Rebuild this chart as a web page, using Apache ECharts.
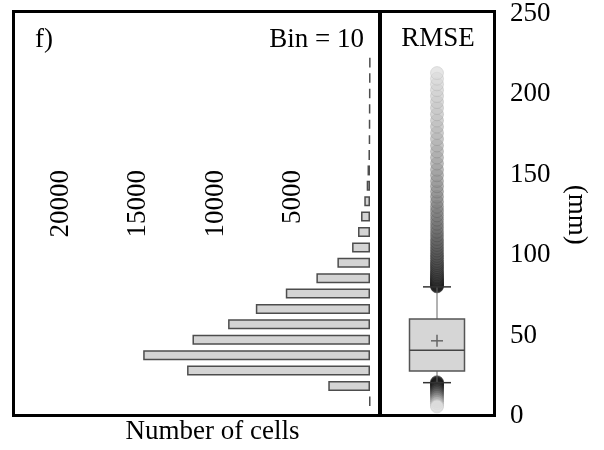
<!DOCTYPE html>
<html>
<head>
<meta charset="utf-8">
<script src="https://cdn.jsdelivr.net/npm/echarts@6/dist/echarts.min.js"></script>
<style>html,body{margin:0;padding:0;background:#fff}#c{width:604px;height:450px}</style>
</head>
<body>
<div id="c"></div>
<script>
// Histogram: bins of 10 mm, number of cells per bin
var binLabels = ['0-10','10-20','20-30','30-40','40-50','50-60','60-70','70-80','80-90','90-100',
  '100-110','110-120','120-130','130-140','140-150','150-160','160-170','170-180','180-190',
  '190-200','200-210','210-220','220-230'];
var binCounts = [30, 2700, 11840, 14680, 11490, 9185, 7390, 5450, 3470, 2110,
  1160, 775, 580, 370, 215, 160, 100, 70, 60, 50, 40, 30, 20];
var countTicks = [0, 5000, 10000, 15000, 20000];

// Boxplot of RMSE (mm): [whiskerLow, Q1, median, Q3, whiskerHigh, mean]
var boxCategory = ['RMSE'];
var boxStats = [20.7, 27.9, 40.9, 60.2, 80.2, 46.7];
var outliersHigh = [80.5, 81, 81.6, 82.3, 83, 83.8, 84.5, 85.3, 86.2, 87, 88, 89, 90.1, 91.3, 92.5,
  93.8, 95, 96.4, 98, 99.5, 101, 102.8, 104.5, 106.3, 108, 110, 112.2, 114.5, 117, 119.4, 122,
  124.6, 127.3, 130, 133, 136.2, 139.4, 142.7, 146, 149.5, 153, 156.8, 160.5, 164.3, 168, 172,
  175.8, 179.7, 183.5, 187.4, 191.3, 195, 198.7, 202.4, 206, 209.5, 213];
var outliersLow = [21, 20.3, 19.5, 18.8, 18, 17.1, 16.2, 15.2, 14.1, 13, 11.8, 10.5, 9.2, 7.9, 6.5, 5.9];
var mmTicks = [0, 50, 100, 150, 200, 250];

var FONT = 'Liberation Serif';
var chart = echarts.init(document.getElementById('c'), null, {renderer: 'canvas'});

function grayFor(v) {
  var g;
  if (v >= 50) {
    var t = Math.min(1, Math.max(0, (v - 80) / 135));
    g = Math.round(35 + 185 * Math.pow(t, 0.7));
  } else {
    var s = Math.min(1, Math.max(0, (21 - v) / 15));
    g = Math.round(30 + 195 * Math.pow(s, 1.6));
  }
  return g;
}
function outStyle(v) {
  var g = grayFor(v);
  var b = Math.max(0, g - 35);
  return {
    color: 'rgba(' + g + ',' + g + ',' + g + ',0.85)',
    borderColor: 'rgba(' + b + ',' + b + ',' + b + ',0.6)',
    borderWidth: 0.8
  };
}
var outData = outliersHigh.concat(outliersLow).map(function (v) {
  return {value: [boxCategory[0], v], itemStyle: outStyle(v)};
});

chart.setOption({
  animation: false,
  backgroundColor: '#fff',
  grid: [
    {left: 61, right: 234, top: 55, height: 354},
    {left: 380, right: 110, top: 13, height: 403}
  ],
  xAxis: [
    {
      gridIndex: 0, type: 'value', inverse: true, position: 'top',
      min: countTicks[0], max: countTicks[countTicks.length - 1], interval: 5000,
      axisLine: {show: false}, axisTick: {show: false}, splitLine: {show: false},
      axisLabel: {inside: true, rotate: -90, margin: 115, showMinLabel: false,
        formatter: function (v) { return String(v); },
        fontFamily: FONT, fontSize: 27, color: '#000'}
    },
    {
      gridIndex: 1, type: 'category', data: boxCategory,
      axisLine: {show: false}, axisTick: {show: false}, axisLabel: {show: false}
    }
  ],
  yAxis: [
    {
      gridIndex: 0, type: 'category', data: binLabels,
      axisLine: {show: false}, axisTick: {show: false}, axisLabel: {show: false}
    },
    {
      gridIndex: 1, type: 'value', position: 'right',
      min: mmTicks[0], max: mmTicks[mmTicks.length - 1], interval: 50,
      axisLine: {show: false}, axisTick: {show: false}, splitLine: {show: false},
      axisLabel: {margin: 16, fontFamily: FONT, fontSize: 27, color: '#000'},
      name: '(mm)', nameLocation: 'middle', nameRotate: -90, nameGap: 69,
      nameTextStyle: {fontFamily: FONT, fontSize: 27, color: '#000'}
    }
  ],
  series: [
    {
      type: 'bar', xAxisIndex: 0, yAxisIndex: 0, data: binCounts, barWidth: 10,
      itemStyle: {color: '#d4d4d4', borderColor: '#4d4d4d', borderWidth: 1.5}
    },
    {
      type: 'scatter', xAxisIndex: 1, yAxisIndex: 1, data: outData,
      symbol: 'circle', symbolSize: 13, z: 2
    },
    {
      type: 'custom', xAxisIndex: 1, yAxisIndex: 1, z: 5,
      data: [[boxCategory[0]].concat(boxStats)],
      renderItem: function (params, api) {
        var c = api.coord([api.value(0), 0])[0];
        var yLo = api.coord([api.value(0), api.value(1)])[1];
        var yQ1 = api.coord([api.value(0), api.value(2)])[1];
        var yMed = api.coord([api.value(0), api.value(3)])[1];
        var yQ3 = api.coord([api.value(0), api.value(4)])[1];
        var yHi = api.coord([api.value(0), api.value(5)])[1];
        var yMean = api.coord([api.value(0), api.value(6)])[1];
        var hw = 27.5, cw = 14, pw = 6;
        var ln = function (x1, y1, x2, y2, col, w) {
          return {type: 'line', shape: {x1: x1, y1: y1, x2: x2, y2: y2},
            style: {stroke: col, lineWidth: w}};
        };
        return {type: 'group', children: [
          ln(c, yQ3, c, yHi, '#666', 1),
          ln(c, yQ1, c, yLo, '#666', 1),
          ln(c - cw, yHi, c + cw, yHi, '#333', 1.5),
          ln(c - cw, yLo, c + cw, yLo, '#333', 1.5),
          {type: 'rect', shape: {x: c - hw, y: yQ3, width: 2 * hw, height: yQ1 - yQ3},
            style: {fill: '#d6d6d6', stroke: '#555', lineWidth: 1.5}},
          ln(c - hw, yMed, c + hw, yMed, '#444', 1.5),
          ln(c - pw, yMean, c + pw, yMean, '#666', 1.5),
          ln(c, yMean - pw, c, yMean + pw, '#666', 1.5)
        ]};
      }
    }
  ],
  graphic: [
    {type: 'rect', shape: {x: 13.5, y: 11.5, width: 366, height: 404},
      style: {fill: 'none', stroke: '#000', lineWidth: 3}, z: 100},
    {type: 'rect', shape: {x: 380.5, y: 11.5, width: 114, height: 404},
      style: {fill: 'none', stroke: '#000', lineWidth: 3}, z: 100},
    {type: 'text', left: 35, top: 26, z: 100,
      style: {text: 'f)', font: '27px "' + FONT + '"', fill: '#000'}},
    {type: 'text', right: 240, top: 26, z: 100,
      style: {text: 'Bin = 10', font: '27px "' + FONT + '"', fill: '#000'}},
    {type: 'text', x: 438, y: 39, z: 100,
      style: {text: 'RMSE', font: '27px "' + FONT + '"', fill: '#000', align: 'center', verticalAlign: 'middle'}},
    {type: 'text', x: 212.5, y: 432, z: 100,
      style: {text: 'Number of cells', font: '27px "' + FONT + '"', fill: '#000', align: 'center', verticalAlign: 'middle'}}
  ]
});
</script>
</body>
</html>
